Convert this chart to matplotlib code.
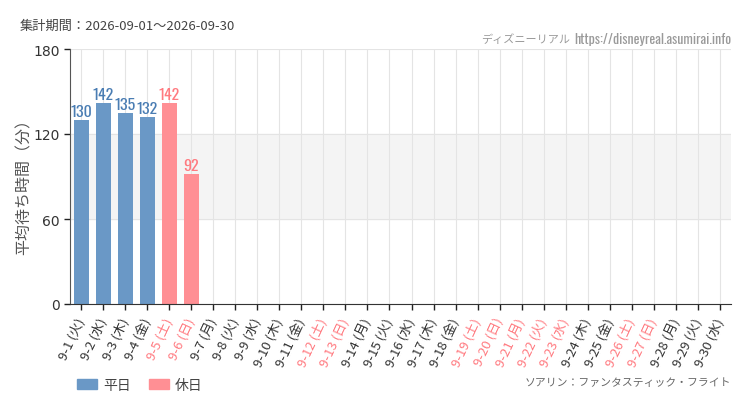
import matplotlib
matplotlib.use("Agg")
import matplotlib.pyplot as plt
from matplotlib.patches import Patch
from matplotlib import font_manager

plt.rcParams['font.family'] = ['Noto Sans CJK JP', 'DejaVu Sans']

_avail = set(f.name for f in font_manager.fontManager.ttflist)
def pick(cands):
    for c in cands:
        if c in _avail:
            return c
    return 'DejaVu Sans'
COND = pick(['Oswald', 'Roboto Condensed', 'Liberation Sans Narrow', 'Open Sans Condensed'])

days = list(range(1, 31))
weekdays = (['火', '水', '木', '金', '土', '日', '月'] * 5)[:30]
holidays = [5, 6, 12, 13, 19, 20, 21, 22, 23, 26, 27]
values = [130, 142, 135, 132, 142, 92] + [None] * 24
labels = [f"9-{d} ({w})" for d, w in zip(days, weekdays)]

title = "集計期間：2026-09-01～2026-09-30"
source_jp = "ディズニーリアル"
source_url = "https://disneyreal.asumirai.info"
attraction = "ソアリン：ファンタスティック・フライト"
ylabel = "平均待ち時間（分）"
yticks = [0, 60, 120, 180]

BLUE = '#6a98c6'
PINK = '#ff8f94'
BLUE_T = '#4a7db3'
PINK_T = '#ff7a80'

fig = plt.figure(figsize=(7.5, 4.1), dpi=100)
fig.patch.set_facecolor('white')
ax = fig.add_axes([70/750, 1-305/410, 661/750, 255/410])

ax.axhspan(60, 120, color='#f4f4f4', zorder=0)
for y in yticks:
    ax.axhline(y, color='#e4e4e4', lw=0.8, zorder=0.5)
for i in range(len(days)):
    ax.axvline(i, color='#e4e4e4', lw=0.8, zorder=0.5)

for i, (d, v) in enumerate(zip(days, values)):
    if v is None:
        continue
    hol = d in holidays
    ax.bar(i, v, width=0.68, color=PINK if hol else BLUE, zorder=2)
    ax.text(i, v + 0.5, str(v), ha='center', va='bottom',
            color=PINK_T if hol else BLUE_T, fontsize=11.5,
            family=[COND, 'DejaVu Sans'], zorder=3)

ax.set_xlim(-0.5, len(days) - 0.5)
ax.set_ylim(0, 180)
ax.set_yticks(yticks)
ax.set_yticklabels([str(y) for y in yticks], fontsize=10, color='#333333',
                   family=['DejaVu Sans'])
ax.set_xticks(range(len(days)))
ax.set_xticklabels(labels, rotation=65, ha='right', va='center',
                   rotation_mode='anchor', fontsize=9.5)
for lab, d in zip(ax.get_xticklabels(), days):
    lab.set_color(PINK_T if d in holidays else '#333333')
ax.tick_params(axis='both', direction='out', length=4, width=1, color='#222222')
ax.tick_params(axis='x', pad=6)

for s in ['top', 'right']:
    ax.spines[s].set_visible(False)
ax.spines['left'].set_color('#555555')
ax.spines['bottom'].set_color('#333333')
ax.set_facecolor('white')

ax.set_ylabel(ylabel, fontsize=11.5, color='#555555')
ax.yaxis.set_label_coords(-37/661, 0.48)

fig.text(20/750, 1-26/410, title, fontsize=9.5, color='#444444', va='center', ha='left')

url_t = fig.text(731/750, 1-40/410, source_url, fontsize=10, color='#9a9a9a',
                 va='center', ha='right', family=[COND, 'DejaVu Sans'], fontweight=300)
fig.canvas.draw()
bb = url_t.get_window_extent()
fig.text((bb.x0 - 4) / 750, 1-40/410, source_jp, fontsize=8, color='#9a9a9a',
         va='center', ha='right')
fig.text(731/750, 1-383/410, attraction, fontsize=7.8, color='#666666', va='center', ha='right')

handles = [Patch(color=BLUE, label='平日'), Patch(color=PINK, label='休日')]
fig.legend(handles=handles, loc='center left', bbox_to_anchor=(64/750, 1-386/410),
           ncol=2, frameon=False, fontsize=10, handlelength=1.45, handleheight=0.8,
           columnspacing=1.3, handletextpad=0.45, labelcolor='#444444')

fig.savefig('out.png', dpi=100)
